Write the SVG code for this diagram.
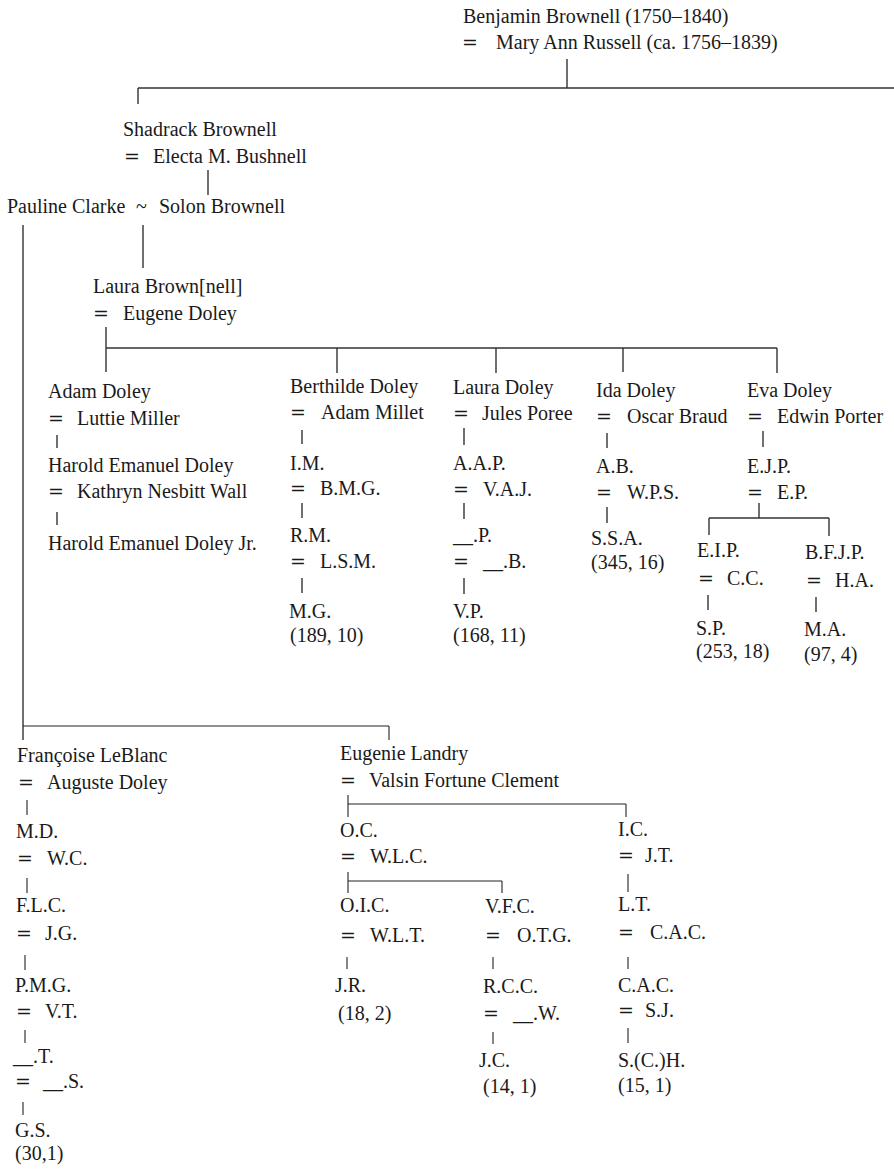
<svg xmlns="http://www.w3.org/2000/svg" width="894" height="1172" viewBox="0 0 894 1172">
<style>
text{font-family:"Liberation Serif","Times New Roman",serif;font-size:20px;fill:#1a1a1a}
.eq{font-family:"DejaVu Serif",serif;font-size:19px}
.c line{stroke:#333;stroke-width:1.4;fill:none}
.c .thin{stroke:#222;stroke-width:1.1}
</style>
<rect width="894" height="1172" fill="#fff"/>
<g class="c" id="connectors">
<line x1="567" y1="59" x2="567" y2="88"/>
<line x1="138" y1="88" x2="894" y2="88"/>
<line x1="138" y1="88" x2="138" y2="104"/>
<line x1="208" y1="170" x2="208" y2="195"/>
<line x1="143" y1="225" x2="143" y2="268"/>
<line x1="23" y1="225" x2="23" y2="740"/>
<line x1="106" y1="327" x2="106" y2="372"/>
<line x1="106" y1="348" x2="777" y2="348"/>
<line x1="337" y1="348" x2="337" y2="373"/>
<line x1="496" y1="348" x2="496" y2="373"/>
<line x1="623" y1="348" x2="623" y2="372"/>
<line x1="777" y1="348" x2="777" y2="373"/>
<line x1="57" y1="435" x2="57" y2="448"/>
<line x1="57" y1="512" x2="57" y2="525"/>
<line x1="302" y1="430" x2="302" y2="444"/>
<line x1="302" y1="503" x2="302" y2="518"/>
<line x1="302" y1="578" x2="302" y2="593"/>
<line x1="464" y1="428" x2="464" y2="445"/>
<line x1="464" y1="503" x2="464" y2="519"/>
<line x1="464" y1="578" x2="464" y2="594"/>
<line x1="607" y1="433" x2="607" y2="448"/>
<line x1="607" y1="507" x2="607" y2="523"/>
<line x1="763" y1="431" x2="763" y2="447"/>
<line x1="759" y1="503" x2="759" y2="518"/>
<line x1="709" y1="518" x2="829" y2="518"/>
<line x1="709" y1="518" x2="709" y2="535"/>
<line x1="829" y1="518" x2="829" y2="536"/>
<line x1="708" y1="595" x2="708" y2="610"/>
<line x1="816" y1="597" x2="816" y2="612"/>
<line class="thin" x1="23" y1="726" x2="389" y2="726"/>
<line class="thin" x1="389" y1="726" x2="389" y2="740"/>
<line class="thin" x1="27" y1="800" x2="27" y2="815"/>
<line class="thin" x1="27" y1="878" x2="27" y2="893"/>
<line class="thin" x1="25" y1="955" x2="25" y2="970"/>
<line class="thin" x1="25" y1="1030" x2="25" y2="1043"/>
<line class="thin" x1="23" y1="1102" x2="23" y2="1115"/>
<line class="thin" x1="348" y1="795" x2="348" y2="817"/>
<line class="thin" x1="348" y1="804" x2="626" y2="804"/>
<line class="thin" x1="626" y1="804" x2="626" y2="817"/>
<line class="thin" x1="348" y1="872" x2="348" y2="893"/>
<line class="thin" x1="348" y1="881" x2="502" y2="881"/>
<line class="thin" x1="502" y1="881" x2="502" y2="893"/>
<line class="thin" x1="347" y1="957" x2="347" y2="969"/>
<line class="thin" x1="493" y1="957" x2="493" y2="969"/>
<line class="thin" x1="493" y1="1032" x2="493" y2="1044"/>
<line class="thin" x1="628" y1="874" x2="628" y2="892"/>
<line class="thin" x1="628" y1="957" x2="628" y2="969"/>
<line class="thin" x1="628" y1="1028" x2="628" y2="1043"/>
</g>
<g id="n-benjamin">
<text x="463" y="23">Benjamin Brownell (1750–1840)</text>
<text y="49"><tspan class="eq" x="462">=</tspan><tspan x="496">Mary Ann Russell (ca. 1756–1839)</tspan></text>
</g>
<g id="n-shadrack">
<text x="123" y="136">Shadrack Brownell</text>
<text y="163"><tspan class="eq" x="124">=</tspan><tspan x="153">Electa M. Bushnell</tspan></text>
</g>
<g id="n-solon">
<text y="213"><tspan x="7">Pauline Clarke</tspan><tspan x="136">~</tspan><tspan x="159">Solon Brownell</tspan></text>
</g>
<g id="n-laura-brownell">
<text x="93" y="293">Laura Brown[nell]</text>
<text y="320"><tspan class="eq" x="93">=</tspan><tspan x="123">Eugene Doley</tspan></text>
</g>
<g id="n-adam">
<text x="48" y="398">Adam Doley</text>
<text y="425"><tspan class="eq" x="48">=</tspan><tspan x="77">Luttie Miller</tspan></text>
<text x="48" y="472">Harold Emanuel Doley</text>
<text y="498"><tspan class="eq" x="48">=</tspan><tspan x="77">Kathryn Nesbitt Wall</tspan></text>
<text x="48" y="550">Harold Emanuel Doley Jr.</text>
</g>
<g id="n-berthilde">
<text x="290" y="393">Berthilde Doley</text>
<text y="419"><tspan class="eq" x="290">=</tspan><tspan x="321">Adam Millet</tspan></text>
<text x="290" y="470">I.M.</text>
<text y="495"><tspan class="eq" x="290">=</tspan><tspan x="320">B.M.G.</tspan></text>
<text x="290" y="542">R.M.</text>
<text y="568"><tspan class="eq" x="290">=</tspan><tspan x="320">L.S.M.</tspan></text>
<text x="289" y="618">M.G.</text>
<text x="290" y="642">(189, 10)</text>
</g>
<g id="n-laura-doley">
<text x="453" y="394">Laura Doley</text>
<text y="420"><tspan class="eq" x="453">=</tspan><tspan x="482">Jules Poree</tspan></text>
<text x="453" y="470">A.A.P.</text>
<text y="496"><tspan class="eq" x="453">=</tspan><tspan x="483">V.A.J.</tspan></text>
<text x="453" y="542">__.P.</text>
<text y="568"><tspan class="eq" x="453">=</tspan><tspan x="483">__.B.</tspan></text>
<text x="453" y="618">V.P.</text>
<text x="453" y="642">(168, 11)</text>
</g>
<g id="n-ida">
<text x="596" y="397">Ida Doley</text>
<text y="423"><tspan class="eq" x="596">=</tspan><tspan x="627">Oscar Braud</tspan></text>
<text x="596" y="473">A.B.</text>
<text y="499"><tspan class="eq" x="596">=</tspan><tspan x="627">W.P.S.</tspan></text>
<text x="591" y="545">S.S.A.</text>
<text x="591" y="569">(345, 16)</text>
</g>
<g id="n-eva">
<text x="747" y="397">Eva Doley</text>
<text y="423"><tspan class="eq" x="747">=</tspan><tspan x="777">Edwin Porter</tspan></text>
<text x="747" y="473">E.J.P.</text>
<text y="499"><tspan class="eq" x="747">=</tspan><tspan x="777">E.P.</tspan></text>
</g>
<g id="n-eip">
<text x="697" y="557">E.I.P.</text>
<text y="585"><tspan class="eq" x="698">=</tspan><tspan x="727">C.C.</tspan></text>
<text x="696" y="635">S.P.</text>
<text x="696" y="658">(253, 18)</text>
</g>
<g id="n-bfjp">
<text x="805" y="559">B.F.J.P.</text>
<text y="587"><tspan class="eq" x="806">=</tspan><tspan x="835">H.A.</tspan></text>
<text x="804" y="636">M.A.</text>
<text x="804" y="661">(97, 4)</text>
</g>
<g id="n-francoise">
<text x="17" y="762">Françoise LeBlanc</text>
<text y="789"><tspan class="eq" x="18">=</tspan><tspan x="47">Auguste Doley</tspan></text>
<text x="16" y="838">M.D.</text>
<text y="865"><tspan class="eq" x="17">=</tspan><tspan x="47">W.C.</tspan></text>
<text x="16" y="912">F.L.C.</text>
<text y="940"><tspan class="eq" x="16">=</tspan><tspan x="45">J.G.</tspan></text>
<text x="15" y="992">P.M.G.</text>
<text y="1018"><tspan class="eq" x="16">=</tspan><tspan x="45">V.T.</tspan></text>
<text x="13" y="1063">__.T.</text>
<text y="1088"><tspan class="eq" x="15">=</tspan><tspan x="43">__.S.</tspan></text>
<text x="15" y="1137">G.S.</text>
<text x="15" y="1160">(30,1)</text>
</g>
<g id="n-eugenie">
<text x="340" y="760">Eugenie Landry</text>
<text y="787"><tspan class="eq" x="340">=</tspan><tspan x="369">Valsin Fortune Clement</tspan></text>
</g>
<g id="n-oc">
<text x="340" y="837">O.C.</text>
<text y="863"><tspan class="eq" x="340">=</tspan><tspan x="370">W.L.C.</tspan></text>
</g>
<g id="n-oic">
<text x="340" y="912">O.I.C.</text>
<text y="942"><tspan class="eq" x="340">=</tspan><tspan x="370">W.L.T.</tspan></text>
<text x="335" y="992">J.R.</text>
<text x="338" y="1020">(18, 2)</text>
</g>
<g id="n-vfc">
<text x="485" y="913">V.F.C.</text>
<text y="942"><tspan class="eq" x="485">=</tspan><tspan x="517">O.T.G.</tspan></text>
<text x="483" y="993">R.C.C.</text>
<text y="1020"><tspan class="eq" x="483">=</tspan><tspan x="513">__.W.</tspan></text>
<text x="479" y="1067">J.C.</text>
<text x="483" y="1093">(14, 1)</text>
</g>
<g id="n-ic">
<text x="618" y="836">I.C.</text>
<text y="862"><tspan class="eq" x="618">=</tspan><tspan x="645">J.T.</tspan></text>
<text x="618" y="911">L.T.</text>
<text y="939"><tspan class="eq" x="618">=</tspan><tspan x="650">C.A.C.</tspan></text>
<text x="618" y="992">C.A.C.</text>
<text y="1017"><tspan class="eq" x="618">=</tspan><tspan x="645">S.J.</tspan></text>
<text x="618" y="1067">S.(C.)H.</text>
<text x="618" y="1092">(15, 1)</text>
</g>
</svg>
